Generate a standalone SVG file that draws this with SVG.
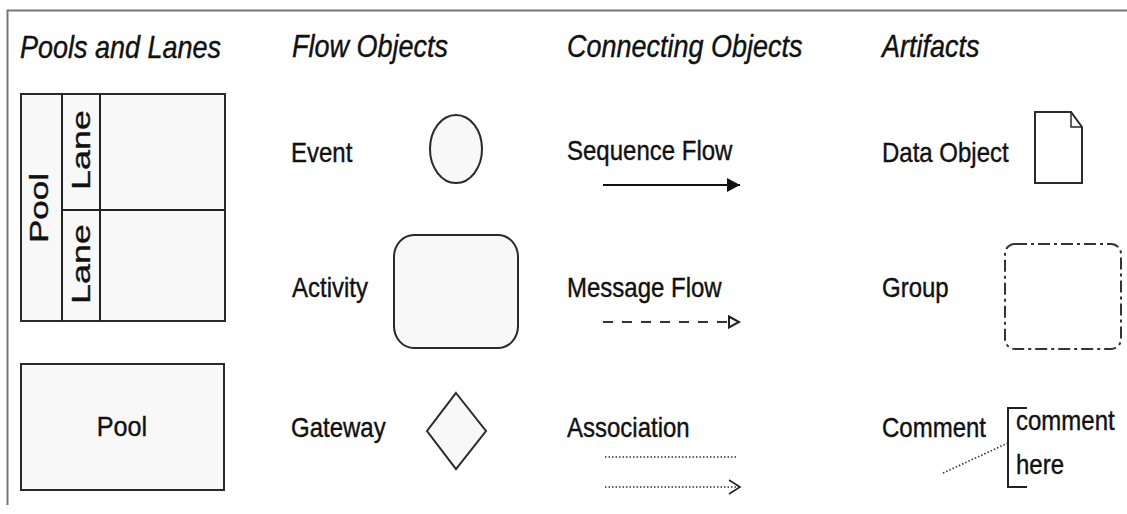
<svg xmlns="http://www.w3.org/2000/svg" width="1127" height="514" viewBox="0 0 1127 514">
<style>
text{font-family:"Liberation Sans",Arial,sans-serif;fill:#111;stroke:#111;stroke-width:0.35}
.h{font-size:27px;font-style:italic}
.l{font-size:24px}
.r{font-size:26px}
.shape{fill:#f8f8f8;stroke:#2a2a2a;stroke-width:2}
.ln{fill:none;stroke:#222;stroke-width:2}
.dot{fill:none;stroke:#333;stroke-width:1.6;stroke-dasharray:1.5 2}
</style>
<defs>
<marker id="seq" markerWidth="14" markerHeight="14" refX="13" refY="7" orient="auto" markerUnits="userSpaceOnUse"><path d="M0,0 L13,7 L0,14 Z" fill="#111"/></marker>
<marker id="msg" markerWidth="14" markerHeight="14" refX="11" refY="7" orient="auto" markerUnits="userSpaceOnUse"><path d="M1,1.5 L11,7 L1,12.5 Z" fill="#fff" stroke="#222" stroke-width="2"/></marker>
<marker id="asc" markerWidth="14" markerHeight="16" refX="12" refY="8" orient="auto" markerUnits="userSpaceOnUse"><path d="M1,1 L12,8 L1,15" fill="none" stroke="#222" stroke-width="1.6"/></marker>
</defs>
<g id="frame"><path d="M7.5,505 V10.5 H1127" fill="none" stroke="#777" stroke-width="2"/></g>
<g id="headings">
<text class="h" transform="translate(20,58) scale(1,1.15)">Pools and Lanes</text>
<text class="h" transform="translate(292,57) scale(1,1.15)">Flow Objects</text>
<text class="h" transform="translate(567,57) scale(1,1.15)">Connecting Objects</text>
<text class="h" transform="translate(882,57) scale(1,1.15)">Artifacts</text>
</g>
<g id="pool-lanes">
<rect class="shape" x="21" y="94" width="204" height="227"/>
<line class="ln" x1="62" y1="94" x2="62" y2="321"/>
<line class="ln" x1="100" y1="94" x2="100" y2="321"/>
<line class="ln" x1="62" y1="210" x2="225" y2="210"/>
<text class="r" text-anchor="middle" transform="translate(48,208) rotate(-90) scale(1.35,1)">Pool</text>
<text class="r" text-anchor="middle" transform="translate(90,150) rotate(-90) scale(1.38,1)">Lane</text>
<text class="r" text-anchor="middle" transform="translate(90,264) rotate(-90) scale(1.38,1)">Lane</text>
</g>
<g id="pool">
<rect class="shape" x="21" y="364" width="203" height="126"/>
<text class="l" text-anchor="middle" transform="translate(122,436) scale(1.05,1.15)">Pool</text>
</g>
<g id="event">
<text class="l" transform="translate(291,162) scale(1,1.15)">Event</text>
<ellipse class="shape" cx="456" cy="149" rx="26" ry="34"/>
</g>
<g id="activity">
<text class="l" transform="translate(292,297) scale(1,1.15)">Activity</text>
<rect class="shape" x="394" y="235" width="124" height="113" rx="20" ry="22"/>
</g>
<g id="gateway">
<text class="l" transform="translate(291,437) scale(1,1.15)">Gateway</text>
<path class="shape" d="M456,393 L486,431 L456,469 L427,431 Z"/>
</g>
<g id="sequence-flow">
<text class="l" transform="translate(567,160) scale(1,1.15)">Sequence Flow</text>
</g>
<g id="message-flow">
<text class="l" transform="translate(567,297) scale(1,1.15)">Message Flow</text>
</g>
<g id="association">
<text class="l" transform="translate(567,437) scale(1,1.15)">Association</text>
</g>
<g id="data-object">
<text class="l" transform="translate(882,162) scale(1,1.15)">Data Object</text>
<path class="shape" d="M1035,112 H1071 L1082,127 V183 H1035 Z" style="fill:#fff"/>
<path d="M1071,112 V127 H1082" fill="none" stroke="#2a2a2a" stroke-width="1.5"/>
</g>
<g id="group">
<text class="l" transform="translate(882,297) scale(1,1.15)">Group</text>
<rect x="1005" y="244" width="116" height="105" rx="10" fill="none" stroke="#333" stroke-width="2" stroke-dasharray="12 4 3 4"/>
</g>
<g id="comment">
<text class="l" transform="translate(882,437) scale(1,1.15)">Comment</text>
<path d="M1027,408 H1008 V487 H1027" fill="none" stroke="#222" stroke-width="2"/>
<text class="l" transform="translate(1016,430) scale(1,1.15)">comment</text>
<text class="l" transform="translate(1016,474) scale(1,1.15)">here</text>
</g>
<g id="connectors">
<line x1="603" y1="185" x2="740" y2="185" stroke="#111" stroke-width="2" marker-end="url(#seq)"/>
<line x1="603" y1="322" x2="739" y2="322" stroke="#333" stroke-width="2" stroke-dasharray="10 9" marker-end="url(#msg)"/>
<line class="dot" x1="605" y1="457" x2="737" y2="457"/>
<line class="dot" x1="605" y1="487" x2="740" y2="487" marker-end="url(#asc)"/>
<line class="dot" x1="943" y1="473" x2="1008" y2="443"/>
</g>
</svg>
